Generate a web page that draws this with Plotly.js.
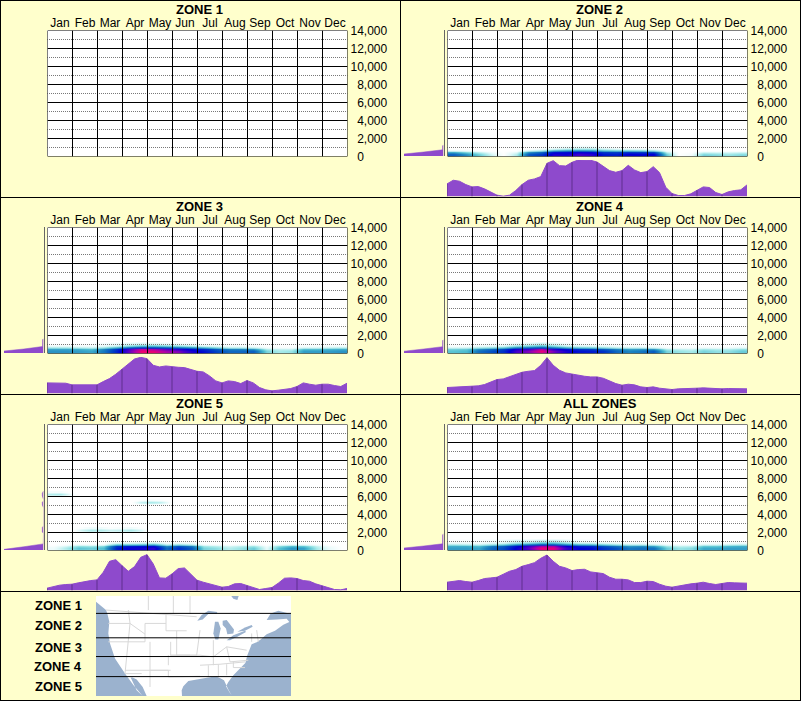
<!DOCTYPE html>
<html><head><meta charset="utf-8">
<script src="https://cdn.plot.ly/plotly-3.0.1.min.js"></script>
<style>html,body{margin:0;padding:0;background:#FFFFCC}#c{width:801px;height:701px}</style>
</head><body><div id="c"></div>
<script>
const months=["Jan","Feb","Mar","Apr","May","Jun","Jul","Aug","Sep","Oct","Nov","Dec"];
const zoneNames=["ZONE 1","ZONE 2","ZONE 3","ZONE 4","ZONE 5","ALL ZONES"];
const elevTicks=[0,2000,4000,6000,8000,10000,12000,14000];
const elevLabels=["\u20070","\u20072,000","\u20074,000","\u20076,000","\u20078,000","10,000","12,000","14,000"];
const dottedLevels=[1000,3000,5000,7000,9000,11000,13000];
const monthEdges=[0,1,2,3,4,5,6,7,8,9,10,11,12];
const areaX=[0,.25,.5,.75,1,1.25,1.5,1.75,2,2.25,2.5,2.75,3,3.25,3.5,3.75,4,4.25,4.5,4.75,5,5.25,5.5,5.75,6,6.25,6.5,6.75,7,7.25,7.5,7.75,8,8.25,8.5,8.75,9,9.25,9.5,9.75,10,10.25,10.5,10.75,11,11.25,11.5,11.75,12];
const heatX=[.25,.75,1.25,1.75,2.25,2.75,3.25,3.75,4.25,4.75,5.25,5.75,6.25,6.75,7.25,7.75,8.25,8.75,9.25,9.75,10.25,10.75,11.25,11.75];
const heatY=[100,300,500,700,900,1100];

const area1=[];
const area2=[38,49,46,36,29,30,23,13,4,1,4,18,36,49,53,60,100,108,93,92,103,110,110,109,104,92,78,73,78,94,80,72,75,90,72,28,9,3,3,8,19,29,27,12,6,14,18,20,35];
const area3=[32,32,32,31,26,26,25,25,26,36,45,58,73,90,104,109,105,85,80,83,80,79,78,72,67,65,53,38,32,38,36,30,39,32,18,11,8,10,12,15,21,32,28,25,28,28,24,21,31];
const area4=[18,19,20,21,21,23,27,34,42,44,50,58,64,67,69,85,108,85,70,62,58,56,52,50,50,46,38,30,25,28,26,20,18,20,16,13,12,14,14,15,16,17,16,13,14,15,14,13,14];
const area5=[7,12,16,18,19,23,27,30,32,55,88,93,75,58,72,100,108,80,38,37,50,66,68,50,31,25,20,15,10,12,20,21,15,8,3,6,9,22,37,38,36,30,28,20,14,7,3,2,6];
const areaAll=[25,27,30,27,25,30,36,38,40,49,58,63,73,78,84,97,107,88,73,68,60,63,64,56,53,51,40,34,34,32,24,24,28,27,19,13,10,14,17,20,22,25,21,18,21,24,23,22,22];

const heat2=[
[45,35,22,8,0,12,48,55,72,70,78,74,62,60,68,66,68,22,0,3,20,18,15,18],
[42,30,18,6,0,10,45,52,70,68,76,72,60,58,66,64,66,18,0,2,16,14,12,15],
[25,15,8,2,0,4,30,40,60,62,64,62,52,50,52,50,48,8,0,0,6,5,5,6],
[5,3,0,0,0,0,8,14,30,35,38,35,25,22,22,20,16,2,0,0,0,0,0,0],
[0,0,0,0,0,0,0,2,6,10,12,12,8,5,4,3,2,0,0,0,0,0,0,0],
[0,0,0,0,0,0,0,0,1,2,3,3,1,0,0,0,0,0,0,0,0,0,0,0]];
const heat3=[
[32,32,30,28,38,58,80,98,98,90,86,72,64,52,42,42,44,18,12,14,30,30,30,32],
[32,32,30,28,38,58,82,98,96,88,84,70,62,50,42,42,44,18,12,14,30,30,30,32],
[28,28,26,22,34,54,78,92,88,80,72,62,56,44,35,34,30,10,8,8,22,22,24,26],
[14,14,12,10,16,30,48,58,56,50,46,38,30,20,12,12,10,3,2,2,8,8,10,12],
[3,3,2,2,4,8,15,22,22,18,15,10,6,4,2,2,1,0,0,0,1,1,2,2],
[0,0,0,0,2,3,5,6,5,3,2,1,0,0,0,0,0,0,0,0,0,0,0,0]];
const heat4=[
[22,24,40,48,55,78,84,94,82,68,62,60,55,42,35,38,45,18,14,12,18,15,15,20],
[22,24,40,48,56,78,86,98,84,70,62,60,55,42,35,38,45,18,14,12,18,15,15,20],
[18,20,32,40,50,70,76,90,72,60,54,50,44,34,28,30,30,10,8,7,12,10,10,14],
[8,9,14,18,24,40,46,52,42,30,24,22,18,12,10,10,8,2,2,2,4,3,4,6],
[1,1,3,4,6,14,18,24,16,8,6,5,4,2,1,1,1,0,0,0,0,0,0,1],
[0,0,0,1,1,3,5,8,5,2,1,0,0,0,0,0,0,0,0,0,0,0,0,0]];
const heat5=[
[3,10,20,18,22,58,66,68,72,40,55,45,18,15,10,14,20,4,22,30,28,12,4,0],
[3,12,22,20,24,60,68,70,74,42,56,46,18,15,10,14,20,4,22,32,30,12,4,0],
[1,6,14,12,16,52,58,60,62,32,46,36,12,9,6,9,12,2,14,22,20,8,2,0],
[0,1,4,3,4,24,24,26,30,12,18,12,3,2,1,2,3,0,4,6,5,2,0,0],
[0,0,0,0,0,5,5,6,8,2,3,2,0,0,0,0,0,0,0,0,0,0,0,0],
[0,0,0,0,0,0,0,0,0,0,0,0,0,0,0,0,0,0,0,0,0,0,0,0]];
const heatAll=[
[30,30,28,42,50,68,78,94,94,74,66,64,55,48,38,40,40,20,14,16,28,28,30,30],
[30,30,28,42,50,68,82,98,96,76,66,64,55,48,38,40,40,20,14,16,28,28,30,30],
[26,26,22,36,44,62,76,88,88,66,58,56,46,38,30,32,28,12,8,9,20,20,24,26],
[14,12,10,16,22,36,44,52,50,38,30,28,22,16,12,12,10,4,3,3,8,8,10,12],
[3,3,2,4,6,12,15,22,22,14,8,7,5,3,2,2,1,0,0,0,1,1,2,2],
[1,1,1,2,3,6,5,8,8,5,2,1,0,0,0,0,0,0,0,0,0,0,0,0]];

const patchX=[.1,.5,.9,1.3,1.7,2.1,2.5,2.9,3.3,3.7,4.1,4.5,4.9];
const patchY=[2100,2300,2500];
const patchZ=[[0,0,0,2,5,5,3,4,5,3,0,0,0],[0,0,0,7,12,11,8,9,12,7,0,0,0],[0,0,0,2,4,4,2,3,4,2,0,0,0]];
const patchY2=[5200,5400,5600];
const patchZ2=[[0,0,0,0,0,0,0,0,0,2,3,2,0],[0,0,0,0,0,0,0,0,0,9,13,10,2],[0,0,0,0,0,0,0,0,0,2,3,2,0]];
const patchY3=[6100,6300,6500];
const patchZ3=[[3,3,1,0,0,0,0,0,0,0,0,0,0],[11,12,4,0,0,0,0,0,0,0,0,0,0],[3,3,1,0,0,0,0,0,0,0,0,0,0]];

const profY2=[0,220,445,670,690,1150,1200];const profW2=[40,40,20,1.5,1,.9,0];
const profY3=[0,220,445,700,720,1500,1550];const profW3=[40,40,20,1.5,1,.9,0];
const profY4=[0,200,445,680,700,1400,1450];const profW4=[40,40,20,1.5,1,.9,0];
const profY5=[0,70,360,660,680,1850,2000,2500,2660,4700,5000,5300,5440,5620,6000,6300,6550];
const profW5=[40,40,20,1.2,.2,0,1.2,1.2,0,0,1.2,1.2,0,0,1.2,1.2,0];
const profYAll=[0,220,445,670,690,1700,1780];const profWAll=[40,40,20,1.5,1,.9,0];

const landX=[288,873,873,850,835,812,800,830,860,868,850,825,800,782,770,755,748,742,736,722,700,685,678,688,695,686,672,650,625,590,565,550,545,546,440,428,410,398,392,410,428,400,375,345,330,325,328,322,318,288];
const landY=[18,18,72,66,62,70,90,88,86,96,104,122,132,148,156,162,178,195,218,232,255,275,288,305,315,300,270,258,262,268,272,288,300,317,317,290,268,262,262,300,317,284,250,205,160,130,95,70,60,35];
const hudsonX=[694,716,712,700];const hudsonY=[18,18,30,26];
const superiorX=[592,605,625,652,650,625,608];const superiorY=[92,75,62,66,72,72,88];
const michiganX=[645,655,662,655,646,640];const michiganY=[95,95,115,148,148,130];
const huronX=[668,680,702,700,682,678,668];const huronY=[92,90,118,130,132,115,105];
const erieX=[680,700,735,738,715,690];const erieY=[150,135,122,126,138,150];
const ontarioX=[712,735,755,758,735];const ontarioY=[125,112,105,110,122];
const boundaryX=[318,345,590,null,385,390,435,null,445,445,null,520,520,null,570,570,null,498,498,560,null,435,498,null,435,435,null,325,390,null,325,435,null,390,375,425,null,450,450,512,null,512,512,570,null,510,590,null,450,450,null,375,505,null,505,505,600,null,600,640,680,740,null,600,590,null,530,530,600,null,505,505,null,640,640,null,680,690,745,null,600,660,735,null,625,625,null,655,655,null,680,680,null,700,700,735,null,755,755,null,770,775];
const boundaryY=[60,62,80,null,60,100,132,null,18,60,null,18,70,null,18,72,null,70,122,122,null,100,100,null,100,155,null,100,100,null,155,155,null,100,250,250,null,155,240,240,null,155,195,195,null,195,195,null,240,290,null,240,240,null,240,260,258,null,195,200,170,180,null,120,195,null,122,195,195,null,195,225,null,150,225,null,170,215,210,null,225,222,215,null,225,262,null,222,262,null,222,255,null,215,232,232,null,130,155,null,120,155];
const zoneLineY=[70,143,199,259];
const zoneLabelY=[605,625,647,666.5,686];

const areas=[area1,area2,area3,area4,area5,areaAll];
const heats=[null,heat2,heat3,heat4,heat5,heatAll];
const profs=[null,[profY2,profW2],[profY3,profW3],[profY4,profW4],[profY5,profW5],[profYAll,profWAll]];

const W=801,H=701;
const FONT="Liberation Sans, Arial, sans-serif";
const px=v=>v/W, py=v=>1-v/H;
const PURPLE="#8E4ACC";
const scale=[[0,"#ffffff"],[.05,"#e4fafa"],[.13,"#a0e8e8"],[.24,"#4cbcd0"],[.36,"#1a80c0"],[.5,"#0048c4"],[.66,"#0000d4"],[.8,"#5000c8"],[.9,"#b000a8"],[1,"#ff0060"]];
const traces=[],shapes=[],annotations=[];
const layout={width:W,height:H,margin:{l:0,r:0,t:0,b:0},paper_bgcolor:"#FFFFCC",plot_bgcolor:"rgba(0,0,0,0)",showlegend:false,font:{family:FONT,size:12,color:"#000"},shapes,annotations};
let ax=0;
function addAxes(xd,yd,xo,yo){ax++;const s=ax===1?"":ax;
  layout["xaxis"+s]=Object.assign({domain:[px(xd[0]),px(xd[1])],anchor:"y"+s,showgrid:false,zeroline:false,showticklabels:false,ticks:"",fixedrange:true},xo);
  layout["yaxis"+s]=Object.assign({domain:[py(yd[1]),py(yd[0])],anchor:"x"+s,showgrid:false,zeroline:false,showticklabels:false,ticks:"",fixedrange:true},yo);
  return ["x"+s,"y"+s];}

const colX=[0,400],rowTop=[30,227,424],titleY=[9,206,403];
zoneNames.forEach((name,i)=>{
  const ox=colX[i%2],top=rowTop[Math.floor(i/2)],bot=top+126;
  const L=ox+47,R=L+300;
  shapes.push({type:"rect",xref:"paper",yref:"paper",x0:px(L),x1:px(R),y0:py(bot),y1:py(top),fillcolor:"#fff",line:{width:0},layer:"below"});
  const [mx,my]=addAxes([L+.5,R+.5],[top+.5,bot+.5],{range:[0,12],side:"top",tickmode:"array",tickvals:heatX.filter((v,k)=>k%2==0).map(v=>v+.25),ticktext:months,showticklabels:true,tickfont:{size:12,family:FONT,color:"#000"}},
     {range:[0,14000],side:"right",tickmode:"array",tickvals:elevTicks,ticktext:elevLabels,showticklabels:true,ticklabelstandoff:2,tickfont:{size:12,family:FONT,color:"#000"}});
  if(heats[i]) traces.push({type:"heatmap",x:heatX,y:heatY,z:heats[i],zmin:0,zmax:100,zsmooth:"best",colorscale:scale,showscale:false,hoverinfo:"skip",xaxis:mx,yaxis:my});
  if(i===4){[[patchY,patchZ],[patchY2,patchZ2],[patchY3,patchZ3]].forEach(p=>{
    traces.push({type:"heatmap",x:patchX,y:p[0],z:p[1],zmin:0,zmax:100,zsmooth:"best",colorscale:scale.map((c,k)=>k===0?[0,"rgba(255,255,255,0)"]:c),showscale:false,hoverinfo:"skip",xaxis:mx,yaxis:my});});}
  dottedLevels.forEach(v=>shapes.push({type:"line",xref:mx,yref:my,x0:-.02,x1:12,y0:v,y1:v,line:{color:"#777",width:1,dash:"1px,1px"},layer:"above"}));
  elevTicks.forEach(v=>shapes.push({type:"line",xref:mx,yref:my,x0:0,x1:12,y0:v,y1:v,line:{color:"#000",width:1},layer:"above"}));
  monthEdges.forEach(v=>shapes.push({type:"line",xref:mx,yref:my,x0:v,x1:v,y0:0,y1:14000,line:{color:"#000",width:1},layer:"above"}));
  const [lx,ly]=addAxes([ox+4,ox+43.5],[top,bot],{range:[40,0]},{range:[0,14000],side:"right",showline:true,linecolor:"#666",linewidth:1.5});
  if(profs[i]) traces.push({type:"scatter",mode:"lines",x:profs[i][1],y:profs[i][0],fill:"tozerox",fillcolor:PURPLE,line:{color:PURPLE,width:.5},hoverinfo:"skip",xaxis:lx,yaxis:ly});
  const [bx,by]=addAxes([L,R],[bot+4,bot+40.5],{range:[0,12],showline:true,linecolor:"#666",linewidth:1.5},{range:[0,110]});
  const a=areas[i];
  if(a.length){
    traces.push({type:"scatter",mode:"lines",x:areaX,y:a,fill:"tozeroy",fillcolor:PURPLE,line:{color:PURPLE,width:1},hoverinfo:"skip",xaxis:bx,yaxis:by});
    const vx=[],vy=[];monthEdges.slice(0,12).forEach(m=>{vx.push(m,m,null);vy.push(0,a[m*4],null);});
    traces.push({type:"scatter",mode:"lines",x:vx,y:vy,line:{color:"#5E2F8E",width:1},hoverinfo:"skip",xaxis:bx,yaxis:by});
  }
  annotations.push({xref:"paper",yref:"paper",x:px(ox+199.5),y:py(titleY[Math.floor(i/2)]),text:"<b>"+name+"</b>",showarrow:false,xanchor:"center",yanchor:"middle",font:{size:13,family:FONT,color:"#000"}});
});

shapes.push({type:"rect",xref:"paper",yref:"paper",x0:px(96),x1:px(291),y0:py(696),y1:py(596),fillcolor:"#9BB2CE",line:{width:0},layer:"below"});
const [gx,gy]=addAxes([96,291],[596,696],{range:[288,873]},{range:[317,18]});
traces.push({type:"scatter",mode:"lines",x:landX,y:landY,fill:"toself",fillcolor:"#fff",line:{color:"#fff",width:0},hoverinfo:"skip",xaxis:gx,yaxis:gy});
traces.push({type:"scatter",mode:"lines",x:boundaryX,y:boundaryY,line:{color:"#d8d8d8",width:1},hoverinfo:"skip",xaxis:gx,yaxis:gy});
[[hudsonX,hudsonY],[superiorX,superiorY],[michiganX,michiganY],[huronX,huronY],[erieX,erieY],[ontarioX,ontarioY]].forEach(p=>
  traces.push({type:"scatter",mode:"lines",x:p[0],y:p[1],fill:"toself",fillcolor:"#9BB2CE",line:{color:"#9BB2CE",width:0},hoverinfo:"skip",xaxis:gx,yaxis:gy}));
zoneLineY.forEach(v=>shapes.push({type:"line",xref:gx,yref:gy,x0:288,x1:873,y0:v,y1:v,line:{color:"#000",width:1},layer:"above"}));
zoneNames.slice(0,5).forEach((n,k)=>annotations.push({xref:"paper",yref:"paper",x:px(83.5),y:py(zoneLabelY[k]),text:"<b>"+n+"</b>",showarrow:false,xanchor:"right",yanchor:"middle",font:{size:13,family:FONT,color:"#000"}}));

const frame=(x0,y0,x1,y1)=>shapes.push({type:"line",xref:"paper",yref:"paper",x0:px(x0),x1:px(x1),y0:py(y0),y1:py(y1),line:{color:"#000",width:1},layer:"above"});
frame(.5,.5,800.5,.5);frame(.5,700.5,800.5,700.5);frame(.5,0,.5,701);frame(800.5,0,800.5,701);
frame(400.5,0,400.5,591);frame(0,197.5,801,197.5);frame(0,394.5,801,394.5);frame(0,591.5,801,591.5);

Plotly.newPlot("c",traces,layout,{staticPlot:true,displayModeBar:false});
</script></body></html>
